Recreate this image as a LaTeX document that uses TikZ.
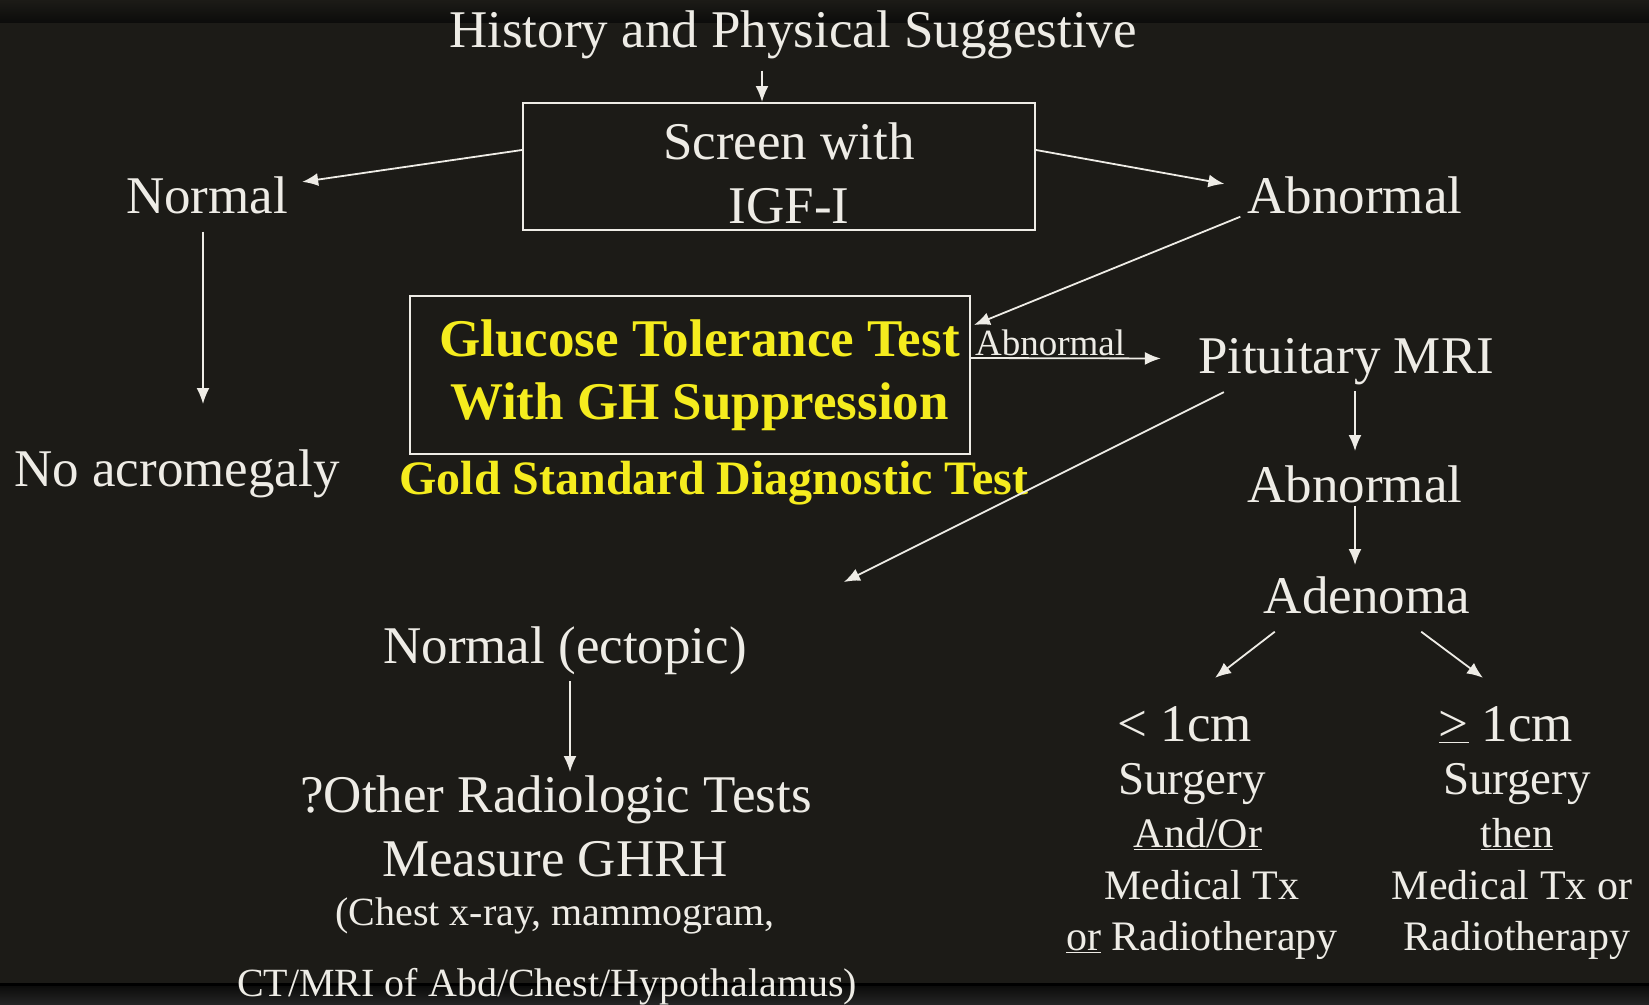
\documentclass[tikz,border=0pt]{standalone}
\usepackage{fontspec}
\setmainfont{Liberation Serif}
\usepackage{tikz}
\usetikzlibrary{shapes,arrows,arrows.meta}
\definecolor{slidebg}{RGB}{28,27,23}
\definecolor{slidetext}{RGB}{238,236,230}
\definecolor{slideyellow}{RGB}{245,236,30}
\definecolor{bandtop}{RGB}{12,12,11}
\definecolor{bandbot}{RGB}{36,36,36}
\tikzstyle{bigtext} = [text=slidetext, inner sep=0pt, anchor=base, font=\fontsize{53}{64}\selectfont]
\tikzstyle{midtext} = [bigtext, font=\fontsize{47}{56}\selectfont]
\tikzstyle{smalltext} = [bigtext, font=\fontsize{42}{52}\selectfont]
\tikzstyle{tinytext} = [bigtext, font=\fontsize{40}{48}\selectfont]
\tikzstyle{edgetext} = [bigtext, font=\fontsize{37}{44}\selectfont]
\tikzstyle{screenblock} = [rectangle, draw=slidetext, line width=2pt, minimum width=512pt, minimum height=127pt,
    inner sep=0pt, text=slidetext, align=center, font=\fontsize{53}{64}\selectfont]
\tikzstyle{gttblock} = [rectangle, draw=slidetext, line width=2pt, minimum width=560pt, minimum height=158pt,
    inner sep=0pt, text=slideyellow, align=center, font=\bfseries\fontsize{53}{63}\selectfont]
\tikzstyle{line} = [draw=slidetext, line width=1.8pt, -{Latex[length=16pt,width=13pt]}]

\begin{document}
\begin{tikzpicture}[x=1pt, y=-1pt]
    \useasboundingbox (0,0) rectangle (1649,1004);
    % slide background
    \fill[slidebg] (0,0) rectangle (1649,1004);
    \shade[top color=slidebg, bottom color=bandtop] (0,0) rectangle (1649,22);
    \fill[black] (0,983) rectangle (1649,986);
    \shade[top color=bandtop, bottom color=bandbot] (0,986) rectangle (1649,1004);

    \node [bigtext] (title) at (793,47) {History and Physical Suggestive};
    \node [screenblock] (screen) at (779,166.5)
        {\hspace*{20pt}\rule{0pt}{51pt}Screen with\\\hspace*{20pt}IGF-I};
    \node [bigtext] (normal) at (207,213) {Normal};
    \node [bigtext] (abnigf) at (1355,213) {Abnormal};
    \node [bigtext] (noacro) at (177,486) {No acromegaly};
    \node [gttblock] (gtt) at (690,375)
        {\hspace*{19pt}Glucose Tolerance Test\\\hspace*{19pt}With GH Suppression};
    \node [bigtext, text=slideyellow, font=\bfseries\fontsize{48}{56}\selectfont] (gold) at (714,494)
        {Gold Standard Diagnostic Test};
    \node [bigtext] (mri) at (1346,373) {Pituitary MRI};
    \node [bigtext] (abnmri) at (1355,502) {Abnormal};
    \node [bigtext] (adenoma) at (1367,613) {Adenoma};
    \node [bigtext] (ectopic) at (565,663) {Normal (ectopic)};
    \node [bigtext] (radio) at (556,812) {?Other Radiologic Tests};
    \node [bigtext] (ghrh) at (555,876) {Measure GHRH};
    \node [tinytext] (chest) at (555,925) {(Chest x-ray, mammogram,};
    \node [tinytext] (ctmri) at (547,996) {CT/MRI of Abd/Chest/Hypothalamus)};
    % small adenoma
    \node [bigtext] (small) at (1185,741) {< 1cm};
    \node [midtext] (smallsurg) at (1192,794) {Surgery};
    \node [smalltext] (smallandor) at (1198,847) {\underline{And/Or}};
    \node [smalltext] (smallmed) at (1202,899) {Medical Tx};
    \node [smalltext] (smallrad) at (1202,950) {\underline{or} Radiotherapy};
    % large adenoma
    \node [bigtext] (large) at (1506,741) {\underline{>} 1cm};
    \node [midtext] (largesurg) at (1517,794) {Surgery};
    \node [smalltext] (largethen) at (1517,847) {\underline{then}};
    \node [smalltext] (largemed) at (1512,899) {Medical Tx or};
    \node [smalltext] (largerad) at (1517,950) {Radiotherapy};

    % Draw edges
    \path[line] ([xshift=-31pt,yshift=-12pt]title.south) -- ([xshift=-17pt]screen.north);
    \path[line] ([yshift=16.5pt]screen.west) -- ([xshift=14pt,yshift=13pt]normal.east);
    \path[line] ([yshift=16.5pt]screen.east) -- ([xshift=-23pt,yshift=11pt]abnigf.west);
    \path[line] ([xshift=-4pt,yshift=-18pt]normal.south) -- ([xshift=26pt,yshift=45pt]noacro.north);
    \path[line] ([xshift=-7pt,yshift=-3pt]abnigf.south west) -- ([xshift=3pt,yshift=-30pt]gtt.north east);
    \path[line] ([yshift=17pt]gtt.east) -- ([xshift=-37pt,yshift=2.7pt]mri.west)
        node [edgetext, pos=0.417, yshift=3pt] (gttabn) {Abnormal};
    \path[line] ([xshift=9pt,yshift=-6.5pt]mri.south) -- ([yshift=14pt]abnmri.north);
    \path[line] ([yshift=-3pt]abnmri.south) -- ([xshift=-12pt,yshift=11pt]adenoma.north);
    \path[line] ([xshift=26pt,yshift=-7.5pt]mri.south west) -- ([xshift=97pt,yshift=44pt]ectopic.north east);
    \path[line] ([xshift=5pt,yshift=-7pt]ectopic.south) -- ([xshift=14pt,yshift=3pt]radio.north);
    \path[line] ([xshift=11pt,yshift=-18pt]adenoma.south west) -- ([xshift=30pt,yshift=28pt]small.north);
    \path[line] ([xshift=-49pt,yshift=-18pt]adenoma.south east) -- ([xshift=-23pt,yshift=28pt]large.north);
\end{tikzpicture}
\end{document}
